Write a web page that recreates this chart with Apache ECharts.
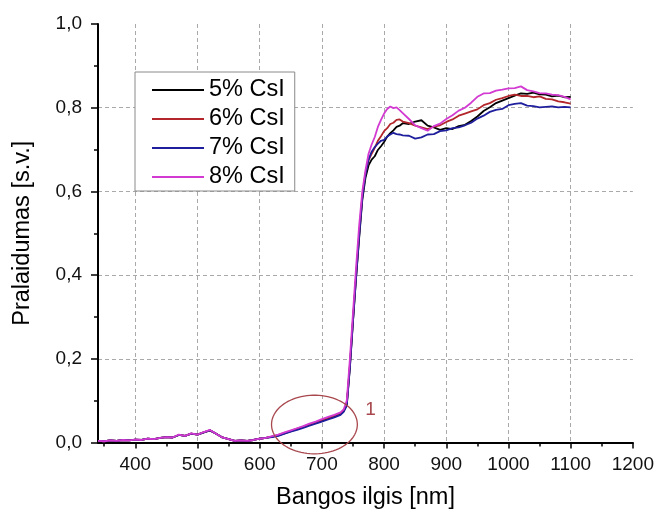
<!DOCTYPE html>
<html><head><meta charset="utf-8">
<script src="https://cdn.jsdelivr.net/npm/echarts@6/dist/echarts.min.js"></script>
<style>html,body{margin:0;padding:0;background:#fff}#c{width:657px;height:515px}</style>
</head><body><div id="c"></div>
<script>
const wavelengths = [340,350,360,370,380,390,400,410,420,430,440,450,460,470,480,490,500,510,520,530,540,550,560,570,580,590,600,610,620,630,640,650,660,670,680,690,700,710,720,
730,735,740,745,750,755,760,765,770,775,780,785,790,795,800,805,810,815,820,825,830,
840,850,860,870,880,890,900,910,920,930,940,950,960,970,980,990,1000,1010,1020,1030,1040,1050,1060,1070,1080,1090,1100];

const cs5 = [0.004,0.003,0.005,0.004,0.006,0.005,0.007,0.006,0.009,0.008,0.011,0.013,0.012,0.018,0.016,0.021,0.019,0.024,0.029,0.021,0.012,0.008,0.004,0.005,0.004,0.006,0.009,0.011,0.014,0.017,0.022,0.027,0.032,0.037,0.042,0.047,0.052,0.057,0.062,
0.068,0.075,0.090,0.180,0.290,0.395,0.490,0.580,0.632,0.662,0.676,0.684,0.699,0.708,0.718,0.731,0.739,0.746,0.754,0.757,0.763,
0.761,0.767,0.770,0.757,0.753,0.747,0.751,0.749,0.756,0.759,0.768,0.779,0.792,0.801,0.811,0.817,0.823,0.829,0.834,0.833,0.836,0.832,0.831,0.827,0.829,0.825,0.826];

const cs6 = [0.004,0.003,0.005,0.004,0.006,0.005,0.007,0.006,0.009,0.008,0.011,0.013,0.012,0.018,0.016,0.021,0.019,0.024,0.029,0.021,0.012,0.008,0.004,0.005,0.004,0.006,0.009,0.011,0.014,0.018,0.023,0.028,0.033,0.038,0.043,0.048,0.054,0.059,0.064,
0.070,0.077,0.093,0.185,0.295,0.400,0.500,0.590,0.643,0.674,0.690,0.704,0.721,0.732,0.744,0.751,0.761,0.764,0.771,0.772,0.767,
0.763,0.757,0.753,0.749,0.755,0.758,0.766,0.772,0.781,0.786,0.791,0.796,0.806,0.811,0.819,0.823,0.828,0.831,0.828,0.828,0.825,0.827,0.821,0.820,0.815,0.813,0.810];

const cs7 = [0.004,0.003,0.005,0.004,0.006,0.005,0.007,0.006,0.009,0.008,0.011,0.013,0.012,0.018,0.016,0.021,0.019,0.024,0.029,0.021,0.012,0.008,0.004,0.005,0.004,0.006,0.009,0.011,0.013,0.016,0.021,0.026,0.030,0.035,0.040,0.045,0.050,0.055,0.060,
0.066,0.073,0.088,0.178,0.290,0.395,0.495,0.585,0.640,0.676,0.695,0.706,0.714,0.721,0.723,0.731,0.736,0.740,0.737,0.736,0.734,
0.733,0.726,0.729,0.736,0.737,0.744,0.746,0.751,0.753,0.758,0.764,0.774,0.781,0.790,0.795,0.797,0.806,0.809,0.811,0.805,0.804,0.801,0.802,0.803,0.801,0.802,0.801];

const cs8 = [0.004,0.003,0.005,0.004,0.006,0.005,0.007,0.006,0.009,0.008,0.011,0.013,0.012,0.019,0.016,0.022,0.019,0.025,0.030,0.021,0.012,0.008,0.004,0.005,0.004,0.006,0.009,0.011,0.015,0.019,0.024,0.029,0.034,0.039,0.045,0.050,0.056,0.061,0.066,
0.072,0.079,0.100,0.200,0.310,0.420,0.520,0.600,0.650,0.690,0.712,0.730,0.754,0.771,0.786,0.797,0.803,0.799,0.801,0.794,0.787,
0.773,0.758,0.751,0.745,0.756,0.762,0.773,0.782,0.793,0.800,0.812,0.826,0.834,0.835,0.841,0.843,0.846,0.847,0.851,0.842,0.839,0.835,0.834,0.831,0.830,0.826,0.820];

const seriesNames = ['5% CsI','6% CsI','7% CsI','8% CsI'];
const seriesColors = ['#000000','#b3262b','#1f1f9e','#d23ad2'];
const xMajorTicks = [400,500,600,700,800,900,1000,1100,1200];
const xMinorTicks = [350,450,550,650,750,850,950,1050,1150];
const xName = 'Bangos ilgis [nm]';
const yName = 'Pralaidumas [s.v.]';
const noteLabel = '1';
// annotation ellipse (data units): center, radii
const noteEllipse = {cx: 688, cy: 0.043, rx: 69, ry: 0.070};
const noteTextPos = [778, 0.078];

const FONT = '"Liberation Sans", Arial, sans-serif';
const chart = echarts.init(document.getElementById('c'), null, {renderer: 'canvas'});
const allData = [cs5, cs6, cs7, cs8];

const option = {
  animation: false,
  backgroundColor: '#fff',
  grid: {left: 98, right: 23, top: 24, bottom: 72.5, containLabel: false},
  legend: {
    orient: 'vertical', left: 135, top: 72,
    icon: 'rect',
    padding: [6, 10, 2, 17], itemGap: 5, itemWidth: 52, itemHeight: 2,
    backgroundColor: '#fff', borderColor: '#8a8a8a', borderWidth: 1,
    textStyle: {fontSize: 23.5, lineHeight: 24, color: '#000', fontFamily: FONT},
    data: seriesNames
  },
  xAxis: [{
    type: 'value', min: 340, max: 1200,
    name: xName, nameLocation: 'middle', nameGap: 43,
    nameTextStyle: {fontSize: 23.5, color: '#000', fontFamily: FONT},
    axisLine: {show: true, onZero: false, lineStyle: {color: '#000', width: 2}},
    axisTick: {show: true, length: 6, customValues: xMajorTicks, lineStyle: {color: '#000', width: 1.5}},
    axisLabel: {customValues: xMajorTicks, fontSize: 19, color: '#111', fontFamily: FONT, margin: 13,
      formatter: v => String(v)},
    splitLine: {show: true, showMaxLine: false, lineStyle: {color: '#a9a9a9', type: [4, 3], width: 1}}
  }, {
    type: 'value', min: 340, max: 1200, position: 'bottom',
    axisLine: {show: false},
    axisTick: {show: true, length: 4, customValues: xMinorTicks, lineStyle: {color: '#000', width: 1.5}},
    axisLabel: {show: false, customValues: xMinorTicks},
    splitLine: {show: false}
  }],
  yAxis: {
    type: 'value', min: 0, max: 1.0, interval: 0.2,
    name: yName, nameLocation: 'middle', nameGap: 63,
    nameTextStyle: {fontSize: 23.5, color: '#000', fontFamily: FONT},
    axisLine: {show: true, lineStyle: {color: '#000', width: 2}},
    axisTick: {show: true, length: 7, lineStyle: {color: '#000', width: 1.5}},
    minorTick: {show: true, splitNumber: 2, length: 4, lineStyle: {color: '#000', width: 1.5}},
    axisLabel: {fontSize: 19, color: '#111', fontFamily: FONT, margin: 16,
      formatter: v => v.toFixed(1).replace('.', ',')},
    splitLine: {show: true, showMaxLine: false, showMinLine: false, lineStyle: {color: '#a9a9a9', type: [4, 3], width: 1}}
  },
  series: seriesNames.map((n, i) => ({
    name: n, type: 'line', xAxisIndex: 0, yAxisIndex: 0,
    symbol: 'none', showSymbol: false,
    lineStyle: {color: seriesColors[i], width: 1.8},
    itemStyle: {color: seriesColors[i]},
    data: wavelengths.map((w, k) => [w, allData[i][k]])
  }))
};
chart.setOption(option);

const pts = [];
for (let t = 0; t <= 90; t++) {
  const a = t / 90 * Math.PI * 2;
  pts.push(chart.convertToPixel({xAxisIndex: 0, yAxisIndex: 0},
    [noteEllipse.cx + noteEllipse.rx * Math.cos(a), noteEllipse.cy + noteEllipse.ry * Math.sin(a)]));
}
const tp = chart.convertToPixel({xAxisIndex: 0, yAxisIndex: 0}, noteTextPos);
chart.setOption({
  graphic: [
    {type: 'polygon', z: 100, shape: {points: pts}, style: {fill: 'none', stroke: '#a8484e', lineWidth: 1.3}},
    {type: 'text', z: 100, x: tp[0], y: tp[1], style: {text: noteLabel, fill: '#a8484e', font: '19px ' + FONT, textAlign: 'center', textVerticalAlign: 'middle'}}
  ]
});
</script></body></html>
